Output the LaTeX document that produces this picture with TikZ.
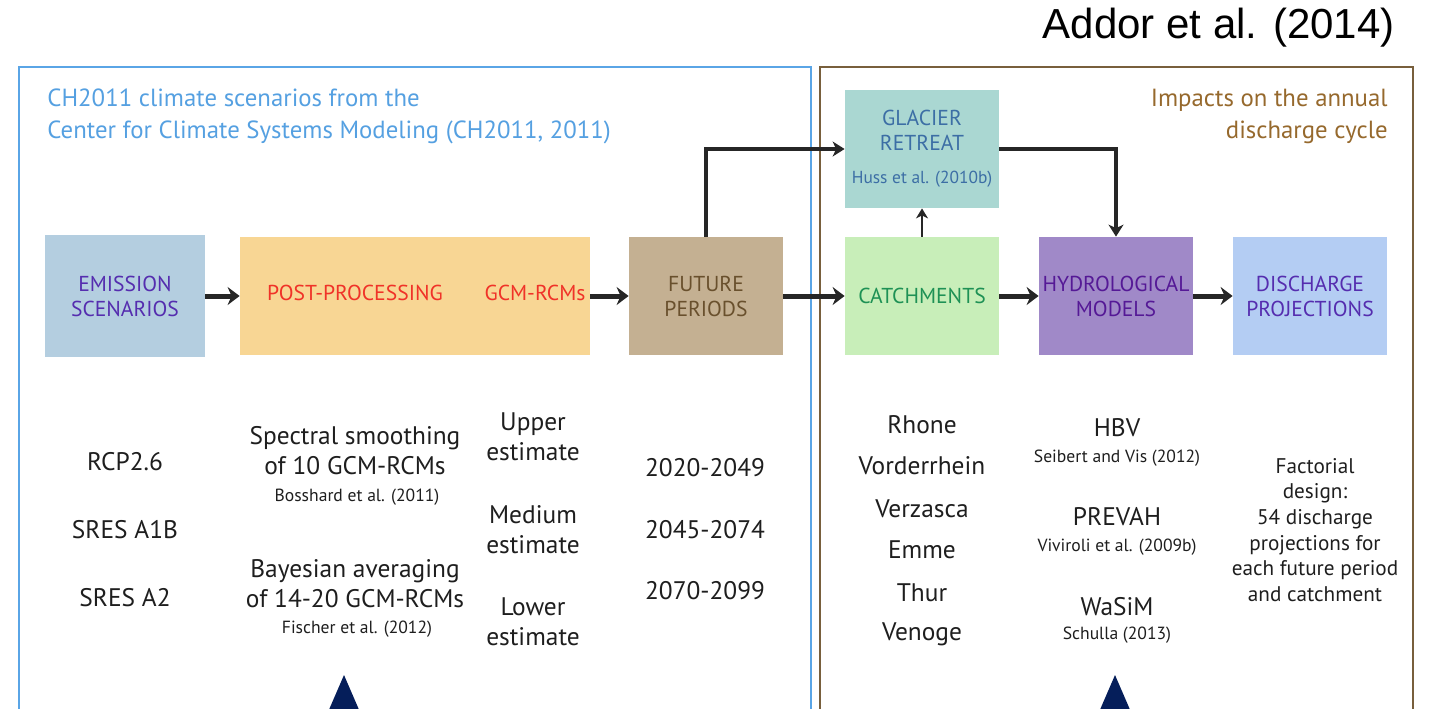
\documentclass[tikz,border=0pt]{standalone}
\usepackage{fontspec}
\setmainfont{PT Sans}
\newfontfamily\arialfont{Liberation Sans}
\usetikzlibrary{positioning,arrows.meta}

\definecolor{frameblue}{RGB}{90,165,230}
\definecolor{framebrown}{RGB}{120,95,60}
\definecolor{titleblue}{RGB}{85,160,225}
\definecolor{impactbrown}{RGB}{150,105,45}
\definecolor{bodytxt}{RGB}{30,30,30}
\definecolor{emisfill}{RGB}{180,206,224}
\definecolor{emistxt}{RGB}{85,45,175}
\definecolor{postfill}{RGB}{248,214,148}
\definecolor{posttxt}{RGB}{240,50,40}
\definecolor{futfill}{RGB}{196,176,146}
\definecolor{futtxt}{RGB}{105,80,45}
\definecolor{catchfill}{RGB}{200,238,185}
\definecolor{catchtxt}{RGB}{30,145,85}
\definecolor{hydrofill}{RGB}{160,137,200}
\definecolor{hydrotxt}{RGB}{85,25,150}
\definecolor{dischfill}{RGB}{180,205,243}
\definecolor{glacfill}{RGB}{170,215,210}
\definecolor{glactxt}{RGB}{60,110,165}
\definecolor{navy}{RGB}{5,30,90}

\begin{document}
\begin{tikzpicture}
  \begin{scope}[x={(0.5pt,0)},y={(0,-0.5pt)},
    every node/.style={inner sep=0pt,align=center,text=bodytxt,
      font=\fontsize{12.7}{15}\selectfont},
    stage/.style={minimum width=77pt,minimum height=59pt,
      font=\fontsize{10.8}{12.5}\selectfont},
    cite/.style={font=\fontsize{8.8}{10}\selectfont},
    flow/.style={-{Stealth[length=6pt,width=9pt,inset=2pt]},line width=2.5pt,black!85},
    link/.style={-{Stealth[length=6pt,width=7.5pt,inset=1.8pt]},line width=1.75pt,black!85}]
    \clip (0,0) rectangle (1429,708);
    % \draw[help lines,step=50] (0,0) grid (1429,708);

    % the two frames
    \draw[line width=1pt,frameblue] (19,67) rectangle (811,730);
    \draw[line width=1pt,framebrown] (820,67) rectangle (1413,730);
    \node[anchor=east,text=black,font=\arialfont\fontsize{21}{23}\selectfont]
      (addor) at (1395,28) {Addor et al. (2014)};
    \node[anchor=west,align=left,text=titleblue,font=\fontsize{12.4}{16}\selectfont]
      (ch2011) at (47,116) {CH2011 climate scenarios from the\\Center for Climate Systems Modeling (CH2011, 2011)};
    \node[anchor=east,align=right,text=impactbrown,font=\fontsize{12.4}{16}\selectfont]
      (impacts) at (1388,116) {Impacts on the annual\\discharge cycle};

    % chain of stages
    \node[stage,fill=emisfill,text=emistxt,minimum width=80pt,minimum height=61pt]
      (emis) at (125,296) {EMISSION\\SCENARIOS};
    \node[stage,fill=postfill,minimum width=175pt] (post) at (415,296) {};
    \node[stage,text=posttxt,minimum width=0pt,minimum height=0pt] (postproc) at (355,293) {POST-PROCESSING};
    \node[stage,text=posttxt,minimum width=0pt,minimum height=0pt] (gcm) at (535,293) {GCM-RCMs};
    \node[stage,fill=futfill,text=futtxt] (fut) at (706,296) {FUTURE\\PERIODS};
    \node[stage,fill=catchfill,text=catchtxt] (catch) at (922,296) {CATCHMENTS};
    \node[stage,fill=hydrofill,text=hydrotxt] (hydro) at (1116,296) {HYDROLOGICAL\\MODELS};
    \node[stage,fill=dischfill,text=emistxt] (disch) at (1310,296) {DISCHARGE\\PROJECTIONS};
    \node[stage,fill=glacfill,text=glactxt] (glac) at (922,149)
      {GLACIER\\RETREAT\\[4pt]{\fontsize{8.7}{10}\selectfont Huss et al. (2010b)}};

    \draw[flow] (emis) -- (post);
    \draw[flow] (post) -- (fut);
    \draw[flow] (fut) -- (catch);
    \draw[flow] (catch) -- (hydro);
    \draw[flow] (hydro) -- (disch);
    \draw[link] (fut.north) |- (glac.west);
    \draw[link] (glac.east) -| (hydro.north);
    \draw[-{Stealth[length=5pt,width=6pt,inset=1.5pt]},line width=1.2pt,black!85] (catch) -- (glac);

    % what goes in each stage
    \node (rcp) at (125,462) {RCP2.6};
    \node (a1b) at (125,530) {SRES A1B};
    \node (a2) at (125,598) {SRES A2};
    \node (smooth) at (355,451) {Spectral smoothing\\of 10 GCM-RCMs};
    \node[cite] (bosshard) at (357,497) {Bosshard et al. (2011)};
    \node (bayes) at (355,584) {Bayesian averaging\\of 14-20 GCM-RCMs};
    \node[cite] (fischer) at (357,629) {Fischer et al. (2012)};
    \node (upper) at (533,437) {Upper\\estimate};
    \node (medium) at (533,530) {Medium\\estimate};
    \node (lower) at (533,622) {Lower\\estimate};
    \node (p1) at (705,468) {2020-2049};
    \node (p2) at (705,530) {2045-2074};
    \node (p3) at (705,591) {2070-2099};
    \foreach \name/\y in {Rhone/425,Vorderrhein/466,Verzasca/509,Emme/550,Thur/593,Venoge/634}
      \node (c-\name) at (922,\y) {\name};
    \node (hbv) at (1117,428) {HBV};
    \node[cite] (seibert) at (1117,458) {Seibert and Vis (2012)};
    \node (prevah) at (1117,517) {PREVAH};
    \node[cite] (viviroli) at (1117,547) {Viviroli et al. (2009b)};
    \node (wasim) at (1117,607) {WaSiM};
    \node[cite] (schulla) at (1117,635) {Schulla (2013)};
    \node[font=\fontsize{10.6}{12.8}\selectfont] (factorial) at (1315,530)
      {Factorial\\design:\\54 discharge\\projections for\\each future period\\and catchment};

    \fill[navy] (328,712) -- (344,675) -- (360,712) -- cycle;
    \fill[navy] (1099,712) -- (1115,675) -- (1131,712) -- cycle;
  \end{scope}
\end{tikzpicture}
\end{document}
